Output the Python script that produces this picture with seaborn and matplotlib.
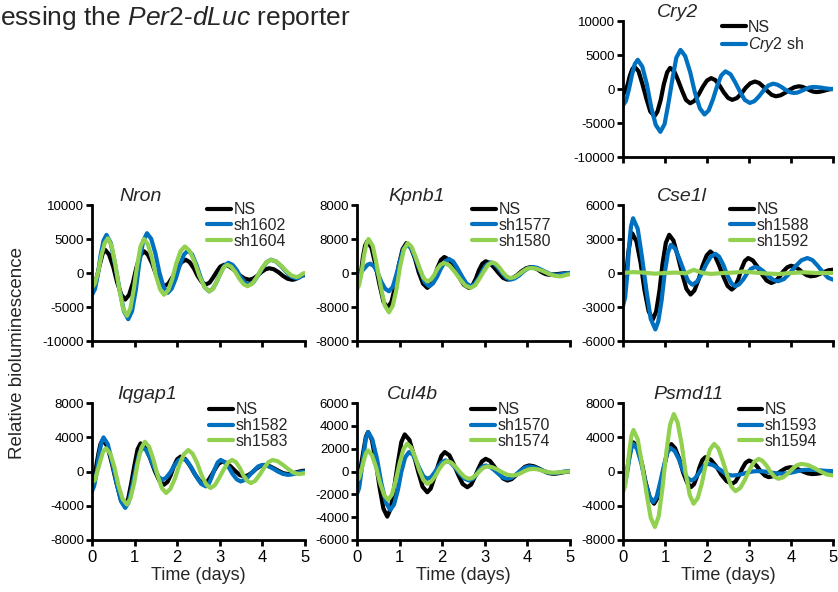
import numpy as np
import pandas as pd
import matplotlib
matplotlib.use("Agg")
import matplotlib.pyplot as plt
import seaborn as sns

# ---------------- data ----------------
# Cry2 panel
t_cry2_ns = [0, .05, .11, .16, .22, .27, .37, .46, .56, .65, .75, .82, .90, .97, 1.05, 1.12, 1.22, 1.31, 1.41, 1.50,
             1.6, 1.7, 1.8, 1.9, 2.0, 2.1, 2.2, 2.3, 2.4, 2.5, 2.6, 2.71, 2.82, 2.92, 3.03, 3.14, 3.24, 3.34, 3.44, 3.54,
             3.64, 3.75, 3.86, 3.97, 4.08, 4.19, 4.27, 4.35, 4.44, 4.52, 4.6, 4.68, 4.76, 4.84, 4.92, 5.0]
v_cry2_ns = [-800, -410, 620, 1890, 2910, 3300, 2610, 780, -1480, -3310, -4000, -3330, -1550, 650, 2430, 3100, 2610, 1310, -310, -1610,
             -2100, -1750, -820, 320, 1250, 1600, 1300, 500, -500, -1300, -1600, -1340, -670, 170, 840, 1100, 890, 350, -320, -860,
             -1070, -930, -560, -110, 260, 400, 320, 110, -160, -370, -450, -410, -300, -160, -40, 0]
t_cry2_sh = [0, .07, .14, .21, .28, .35, .46, .57, .67, .78, .89, .99, 1.08, 1.18, 1.27, 1.37, 1.48, 1.60, 1.71, 1.83,
             1.94, 2.04, 2.14, 2.24, 2.34, 2.44, 2.56, 2.67, 2.79, 2.90, 3.02, 3.13, 3.24, 3.35, 3.46, 3.57, 3.67, 3.77, 3.87, 3.97,
             4.07, 4.16, 4.25, 4.35, 4.44, 4.53, 4.62, 4.72, 4.81, 4.91, 5.0]
v_cry2_sh = [-2400, -1760, -90, 1990, 3660, 4300, 3290, 640, -2640, -5290, -6300, -5160, -2140, 1590, 4610, 5750, 4850, 2470, -470, -2850,
             -3750, -3150, -1560, 410, 2000, 2600, 2160, 1000, -450, -1610, -2050, -1780, -1070, -200, 510, 780, 650, 310, -120, -460,
             -590, -510, -280, -10, 220, 300, 270, 200, 100, 30, 0]

# Nron panel
t_nron_ns = [0, .06, .12, .19, .25, .31, .40, .50, .59, .69, .78, .87, .96, 1.04, 1.13, 1.22, 1.31, 1.41, 1.50, 1.60,
             1.69, 1.79, 1.89, 2.00, 2.10, 2.2, 2.29, 2.39, 2.48, 2.58, 2.67, 2.76, 2.84, 2.93, 3.01, 3.1, 3.22, 3.34, 3.45, 3.57,
             3.69, 3.78, 3.88, 3.97, 4.07, 4.16, 4.27, 4.38, 4.48, 4.59, 4.7, 4.76, 4.82, 4.88, 4.94, 5.0]
v_nron_ns = [-2400, -1850, -400, 1400, 2850, 3400, 2710, 880, -1380, -3210, -3900, -3230, -1450, 750, 2530, 3200, 2710, 1420, -170, -1460,
             -1950, -1580, -600, 610, 1580, 1950, 1600, 690, -440, -1350, -1700, -1420, -700, 200, 930, 1200, 990, 440, -240, -790,
             -1000, -840, -410, 110, 540, 700, 540, 110, -410, -840, -1000, -930, -760, -540, -370, -300]
t_nron_1602 = [0, .07, .14, .20, .27, .34, .44, .54, .65, .75, .85, .94, 1.03, 1.11, 1.20, 1.29, 1.39, 1.49, 1.58, 1.68,
               1.78, 1.87, 1.97, 2.06, 2.16, 2.25, 2.35, 2.45, 2.55, 2.65, 2.75, 2.84, 2.93, 3.02, 3.11, 3.2, 3.30, 3.40, 3.49, 3.59,
               3.69, 3.79, 3.89, 4.00, 4.10, 4.2, 4.32, 4.44, 4.56, 4.68, 4.8, 4.84, 4.88, 4.92, 4.96, 5.0]
v_nron_1602 = [-3200, -2360, -160, 2560, 4760, 5600, 4420, 1320, -2520, -5620, -6800, -5600, -2440, 1490, 4650, 5850, 5020, 2830, 120, -2070,
               -2900, -2310, -760, 1160, 2710, 3300, 2730, 1230, -630, -2130, -2700, -2300, -1250, 50, 1100, 1500, 1200, 400, -600, -1400,
               -1700, -1350, -440, 690, 1600, 1950, 1690, 1000, 150, -540, -800, -740, -590, -410, -260, -200]
t_nron_1604 = [0, .07, .15, .22, .30, .37, .46, .55, .64, .73, .82, .90, .98, 1.06, 1.14, 1.22, 1.31, 1.41, 1.50, 1.60,
               1.69, 1.79, 1.89, 1.98, 2.08, 2.18, 2.29, 2.41, 2.52, 2.64, 2.75, 2.84, 2.92, 3.01, 3.09, 3.18, 3.27, 3.37, 3.46, 3.56,
               3.65, 3.76, 3.87, 3.98, 4.09, 4.2, 4.32, 4.44, 4.56, 4.68, 4.8, 4.84, 4.88, 4.92, 4.96, 5.0]
v_nron_1604 = [-2200, -1510, 320, 2580, 4410, 5100, 4020, 1170, -2370, -5220, -6300, -5230, -2400, 1100, 3930, 5000, 4220, 2170, -370, -2420,
               -3200, -2530, -750, 1450, 3230, 3900, 3270, 1620, -420, -2070, -2700, -2330, -1350, -150, 830, 1200, 900, 110, -860, -1650,
               -1950, -1580, -600, 610, 1580, 1950, 1710, 1070, 280, -360, -600, -540, -390, -210, -60, 0]

# Kpnb1 panel
t_kpnb1_ns = [0, .05, .10, .14, .19, .24, .34, .43, .53, .62, .72, .81, .90, .98, 1.07, 1.16, 1.26, 1.36, 1.45, 1.55,
              1.65, 1.73, 1.81, 1.89, 1.97, 2.05, 2.17, 2.28, 2.40, 2.51, 2.63, 2.71, 2.79, 2.86, 2.94, 3.02, 3.12, 3.22, 3.33, 3.43,
              3.53, 3.64, 3.75, 3.86, 3.97, 4.08, 4.16, 4.25, 4.33, 4.42, 4.5, 4.6, 4.7, 4.8, 4.9, 5.0]
v_kpnb1_ns = [-3100, -2100, 540, 3810, 6450, 7450, 5960, 2050, -2800, -6710, -8200, -6750, -2940, 1790, 5600, 7050, 6050, 3410, 140, -2500,
              -3500, -2810, -1000, 1260, 3070, 3760, 3070, 1260, -1000, -2810, -3500, -2910, -1340, 590, 2160, 2750, 2340, 1260, -80, -1160,
              -1570, -1290, -550, 380, 1120, 1400, 1230, 780, 220, -230, -400, -360, -260, -140, -40, 0]
t_kpnb1_1577 = [0, .06, .12, .19, .25, .31, .40, .49, .57, .66, .75, .84, .92, 1.01, 1.09, 1.18, 1.28, 1.38, 1.49, 1.59,
                1.69, 1.78, 1.88, 1.97, 2.07, 2.16, 2.26, 2.36, 2.47, 2.57, 2.67, 2.76, 2.86, 2.95, 3.05, 3.14, 3.23, 3.32, 3.42, 3.51,
                3.6, 3.70, 3.81, 3.91, 4.02, 4.12, 4.23, 4.33, 4.44, 4.54, 4.65, 4.72, 4.79, 4.86, 4.93, 5.0]
v_kpnb1_1577 = [-400, -150, 500, 1300, 1950, 2200, 1580, -40, -2060, -3680, -4300, -3260, -520, 2880, 5620, 6660, 5730, 3290, 270, -2170,
                -3100, -2490, -890, 1090, 2690, 3300, 2690, 1090, -890, -2490, -3100, -2570, -1170, 570, 1970, 2500, 2110, 1100, -170, -1180,
                -1570, -1290, -550, 380, 1120, 1400, 1220, 760, 190, -270, -450, -410, -300, -160, -40, 0]
t_kpnb1_1580 = [0, .05, .11, .16, .22, .27, .37, .46, .56, .65, .75, .84, .93, 1.01, 1.10, 1.19, 1.28, 1.37, 1.47, 1.56,
                1.65, 1.73, 1.81, 1.88, 1.96, 2.04, 2.17, 2.29, 2.42, 2.54, 2.67, 2.77, 2.87, 2.98, 3.08, 3.18, 3.26, 3.35, 3.43, 3.52,
                3.6, 3.70, 3.79, 3.89, 3.98, 4.08, 4.21, 4.35, 4.48, 4.62, 4.75, 4.80, 4.85, 4.90, 4.95, 5.0]
v_kpnb1_1580 = [-3900, -2770, 210, 3900, 6870, 8000, 6360, 2050, -3300, -7610, -9250, -7700, -3630, 1430, 5500, 7050, 6190, 3930, 1120, -1140,
                -2000, -1590, -500, 850, 1940, 2350, 1790, 330, -1480, -2940, -3500, -2930, -1430, 430, 1930, 2500, 2150, 1220, 80, -850,
                -1200, -970, -370, 370, 970, 1200, 1010, 510, -110, -610, -800, -750, -630, -470, -350, -300]

# Cse1l panel
t_cse1l_ns = [0, .04, .09, .13, .18, .22, .32, .42, .51, .61, .71, .79, .87, .94, 1.02, 1.1, 1.20, 1.30, 1.41, 1.51,
              1.61, 1.70, 1.80, 1.89, 1.99, 2.08, 2.18, 2.28, 2.39, 2.49, 2.59, 2.67, 2.75, 2.82, 2.90, 2.98, 3.09, 3.20, 3.31, 3.42,
              3.53, 3.62, 3.72, 3.81, 3.91, 4.0, 4.09, 4.19, 4.28, 4.38, 4.47, 4.58, 4.68, 4.79, 4.89, 5.0]
v_cse1l_ns = [-1200, -750, 420, 1880, 3050, 3500, 2780, 880, -1480, -3380, -4100, -3390, -1520, 790, 2660, 3370, 2870, 1550, -80, -1400,
              -1900, -1540, -590, 590, 1540, 1900, 1580, 740, -300, -1140, -1460, -1200, -500, 360, 1060, 1320, 1110, 560, -120, -670,
              -880, -740, -360, 120, 500, 640, 550, 320, 30, -200, -290, -240, -90, 90, 240, 290]
t_cse1l_1588 = [0, .05, .10, .14, .19, .24, .35, .45, .56, .66, .77, .84, .92, .99, 1.07, 1.14, 1.24, 1.34, 1.45, 1.55,
                1.65, 1.76, 1.87, 1.98, 2.09, 2.2, 2.29, 2.39, 2.48, 2.58, 2.67, 2.76, 2.86, 2.95, 3.05, 3.14, 3.25, 3.36, 3.47, 3.58,
                3.69, 3.83, 3.97, 4.11, 4.25, 4.39, 4.51, 4.63, 4.76, 4.88, 5.0]
v_cse1l_1588 = [-2900, -2170, -230, 2160, 4100, 4830, 3900, 1450, -1600, -4050, -4980, -4270, -2400, -90, 1780, 2490, 2160, 1280, 180, -700,
                -1030, -770, -90, 760, 1440, 1700, 1430, 710, -180, -900, -1170, -1010, -580, -60, 370, 530, 410, 100, -300, -610,
                -730, -540, -20, 610, 1130, 1320, 1140, 660, 70, -410, -590]
t_cse1l_1592 = [0, 0.25, 0.5, 0.75, 1.0, 1.25, 1.5, 1.6, 1.69, 1.78, 1.9, 2.1, 2.4, 2.7, 2.85, 3.1, 3.4, 3.7, 4.0, 4.3, 4.6, 5.0]
v_cse1l_1592 = [0, 80, 30, -60, 0, 40, -30, 150, 280, 150, 0, -80, 0, 50, 130, 50, -40, -90, 0, 60, 0, 0]

# Iqgap1 panel
t_iqgap1_ns = [0, .05, .10, .15, .20, .25, .36, .46, .57, .67, .78, .85, .92, 1.00, 1.07, 1.14, 1.25, 1.36, 1.47, 1.58,
               1.69, 1.77, 1.85, 1.92, 2.00, 2.08, 2.19, 2.30, 2.41, 2.52, 2.63, 2.72, 2.80, 2.89, 2.97, 3.06, 3.16, 3.26, 3.37, 3.47,
               3.57, 3.66, 3.76, 3.85, 3.95, 4.04, 4.15, 4.26, 4.38, 4.49, 4.6, 4.68, 4.76, 4.84, 4.92, 5.0]
v_iqgap1_ns = [-970, -530, 630, 2070, 3230, 3670, 2960, 1070, -1260, -3150, -3860, -3180, -1400, 820, 2600, 3280, 2820, 1620, 120, -1080,
               -1540, -1230, -410, 610, 1430, 1740, 1450, 670, -280, -1060, -1350, -1110, -480, 290, 920, 1160, 1000, 560, 20, -420,
               -580, -450, -110, 300, 640, 770, 670, 400, 70, -200, -300, -260, -160, -40, 60, 100]
t_iqgap1_1582 = [0, .05, .11, .16, .22, .27, .37, .47, .58, .68, .78, .86, .94, 1.03, 1.11, 1.19, 1.28, 1.37, 1.47, 1.56,
                 1.65, 1.74, 1.84, 1.93, 2.03, 2.12, 2.23, 2.34, 2.45, 2.56, 2.67, 2.74, 2.81, 2.88, 2.95, 3.02, 3.11, 3.21, 3.30, 3.40,
                 3.49, 3.59, 3.69, 3.80, 3.90, 4.0, 4.12, 4.24, 4.36, 4.48, 4.6, 4.68, 4.76, 4.84, 4.92, 5.0]
v_iqgap1_1582 = [-2300, -1700, -130, 1810, 3380, 3980, 3200, 1140, -1410, -3470, -4250, -3580, -1810, 380, 2150, 2820, 2460, 1510, 340, -610,
                 -965, -730, -100, 680, 1300, 1540, 1230, 410, -610, -1430, -1740, -1450, -670, 280, 1060, 1350, 1110, 480, -290, -920,
                 -1160, -980, -490, 100, 590, 770, 660, 370, 10, -280, -390, -350, -260, -140, -40, 0]
t_iqgap1_1583 = [0, .07, .13, .20, .26, .33, .43, .53, .62, .72, .82, .90, .99, 1.07, 1.16, 1.24, 1.34, 1.44, 1.54, 1.64,
                 1.74, 1.84, 1.95, 2.05, 2.16, 2.26, 2.36, 2.47, 2.57, 2.68, 2.78, 2.88, 2.98, 3.09, 3.19, 3.29, 3.38, 3.47, 3.55, 3.64,
                 3.73, 3.83, 3.93, 4.04, 4.14, 4.24, 4.36, 4.48, 4.61, 4.73, 4.85, 4.88, 4.91, 4.94, 4.97, 5.0]
v_iqgap1_1583 = [-1350, -970, 50, 1300, 2320, 2700, 2080, 440, -1600, -3240, -3860, -3160, -1330, 940, 2770, 3470, 2900, 1410, -450, -1940,
                 -2510, -2030, -780, 780, 2030, 2510, 2090, 980, -400, -1510, -1930, -1620, -800, 220, 1040, 1350, 1090, 420, -420, -1090,
                 -1350, -1090, -420, 420, 1090, 1350, 1190, 780, 270, -140, -300, -290, -270, -240, -210, -200]

# Cul4b panel
t_cul4b_ns = [0, .05, .10, .16, .21, .26, .35, .44, .53, .62, .71, .79, .87, .96, 1.04, 1.12, 1.23, 1.33, 1.44, 1.54,
              1.65, 1.73, 1.81, 1.90, 1.98, 2.06, 2.17, 2.27, 2.38, 2.48, 2.59, 2.68, 2.76, 2.85, 2.93, 3.02, 3.12, 3.22, 3.33, 3.43,
              3.53, 3.63, 3.73, 3.84, 3.94, 4.04, 4.15, 4.26, 4.38, 4.49, 4.6, 4.68, 4.76, 4.84, 4.92, 5.0]
v_cul4b_ns = [-800, -400, 670, 1990, 3060, 3460, 2760, 900, -1390, -3250, -3950, -3270, -1470, 770, 2570, 3250, 2770, 1500, -70, -1340,
              -1820, -1490, -610, 490, 1370, 1700, 1410, 640, -320, -1090, -1380, -1140, -520, 250, 870, 1110, 930, 450, -140, -610,
              -790, -670, -340, 80, 410, 530, 460, 280, 50, -130, -200, -180, -130, -70, -20, 0]
t_cul4b_1570 = [0, .05, .10, .16, .21, .26, .36, .47, .57, .68, .78, .87, .96, 1.04, 1.13, 1.22, 1.31, 1.39, 1.48, 1.56,
                1.65, 1.74, 1.82, 1.91, 1.99, 2.08, 2.19, 2.30, 2.41, 2.52, 2.63, 2.71, 2.79, 2.86, 2.94, 3.02, 3.12, 3.22, 3.33, 3.43,
                3.53, 3.63, 3.73, 3.84, 3.94, 4.04, 4.15, 4.26, 4.38, 4.49, 4.6, 4.68, 4.76, 4.84, 4.92, 5.0]
v_cul4b_1570 = [-1960, -1450, -90, 1590, 2950, 3460, 2810, 1100, -1010, -2720, -3370, -2890, -1620, -50, 1220, 1700, 1480, 890, 170, -420,
                -640, -490, -90, 420, 820, 970, 800, 360, -180, -620, -790, -670, -340, 80, 410, 530, 420, 130, -240, -530,
                -640, -540, -270, 70, 340, 440, 380, 240, 50, -90, -150, -130, -80, -20, 30, 50]
t_cul4b_1574 = [0, .05, .10, .16, .21, .26, .35, .45, .54, .64, .73, .82, .91, 1.00, 1.09, 1.18, 1.27, 1.37, 1.46, 1.56,
                1.65, 1.74, 1.84, 1.93, 2.03, 2.12, 2.22, 2.32, 2.43, 2.53, 2.63, 2.72, 2.80, 2.89, 2.97, 3.06, 3.18, 3.30, 3.41, 3.53,
                3.65, 3.74, 3.84, 3.93, 4.03, 4.12, 4.22, 4.31, 4.41, 4.50, 4.6, 4.68, 4.76, 4.84, 4.92, 5.0]
v_cul4b_1574 = [-800, -550, 110, 940, 1600, 1850, 1440, 350, -990, -2080, -2490, -2020, -790, 730, 1960, 2430, 2100, 1220, 130, -750,
                -1080, -890, -390, 220, 720, 910, 760, 380, -110, -490, -640, -540, -270, 70, 340, 440, 370, 170, -80, -280,
                -350, -300, -150, 30, 180, 230, 200, 120, 10, -70, -100, -90, -70, -40, -10, 0]

# Psmd11 panel
t_psmd11_ns = [0, .05, .10, .15, .20, .25, .35, .45, .54, .64, .74, .82, .90, .99, 1.07, 1.15, 1.24, 1.34, 1.43, 1.53,
               1.62, 1.69, 1.76, 1.82, 1.89, 1.96, 2.09, 2.22, 2.34, 2.47, 2.6, 2.68, 2.76, 2.84, 2.92, 3.0, 3.09, 3.19, 3.28, 3.38,
               3.47, 3.57, 3.67, 3.78, 3.88, 3.98, 4.08, 4.19, 4.29, 4.40, 4.5, 4.6, 4.7, 4.8, 4.9, 5.0]
v_psmd11_ns = [-1430, -970, 240, 1730, 2940, 3400, 2720, 930, -1290, -3080, -3760, -3100, -1360, 800, 2540, 3200, 2720, 1470, -90, -1340,
               -1820, -1490, -620, 470, 1340, 1670, 1380, 600, -360, -1140, -1430, -1170, -500, 350, 1020, 1280, 1100, 610, 10, -480,
               -660, -550, -260, 100, 390, 500, 420, 220, -20, -220, -300, -270, -200, -100, -30, 0]
t_psmd11_1593 = [0, .05, .10, .15, .20, .25, .34, .44, .53, .63, .72, .80, .88, .97, 1.05, 1.13, 1.23, 1.33, 1.42, 1.52,
                 1.62, 1.70, 1.78, 1.86, 1.94, 2.02, 2.14, 2.25, 2.37, 2.48, 2.6, 2.72, 2.84, 2.96, 3.08, 3.2, 3.32, 3.44, 3.56, 3.68,
                 3.8, 3.92, 4.04, 4.16, 4.28, 4.4, 4.52, 4.64, 4.76, 4.88, 5.0]
v_psmd11_1593 = [-1820, -1340, -80, 1480, 2740, 3220, 2580, 880, -1230, -2930, -3570, -2970, -1390, 570, 2150, 2750, 2390, 1440, 260, -690,
                 -1050, -870, -380, 220, 710, 890, 760, 420, 0, -340, -470, -420, -290, -130, 0, 50, 20, -50, -150, -220,
                 -250, -210, -100, 50, 160, 200, 190, 150, 100, 60, 50]
t_psmd11_1594 = [0, .05, .10, .15, .20, .25, .35, .45, .56, .66, .76, .85, .94, 1.03, 1.12, 1.21, 1.30, 1.40, 1.49, 1.59,
                 1.68, 1.78, 1.88, 1.97, 2.07, 2.17, 2.27, 2.37, 2.48, 2.58, 2.68, 2.79, 2.90, 3.01, 3.12, 3.23, 3.32, 3.42, 3.51, 3.61,
                 3.7, 3.81, 3.92, 4.03, 4.14, 4.25, 4.40, 4.55, 4.70, 4.85, 5.0]
v_psmd11_1594 = [-2400, -1710, 100, 2350, 4160, 4850, 3770, 940, -2570, -5400, -6480, -5230, -1930, 2160, 5460, 6710, 5720, 3100, -150, -2770,
                 -3760, -3100, -1350, 810, 2560, 3220, 2700, 1320, -390, -1770, -2290, -1930, -990, 170, 1110, 1470, 1250, 670, -50, -630,
                 -850, -690, -250, 290, 730, 890, 760, 420, 0, -340, -470]

# Tick values / labels as printed in the picture
yticks_cry2 = [-10000, -5000, 0, 5000, 10000]
yticks_nron = [-10000, -5000, 0, 5000, 10000]
yticks_kpnb1 = [-16000, -8000, 0, 8000, 16000]
yticklabels_kpnb1 = ["-8000", "-8000", "0", "8000", "8000"]
yticks_cse1l = [-6000, -3000, 0, 3000, 6000]
yticks_iqgap1 = [-8000, -4000, 0, 4000, 8000]
yticks_cul4b = [-6000, -4000, -2000, 0, 2000, 4000, 6000]
yticks_psmd11 = [-8000, -4000, 0, 4000, 8000]
xticks = [0, 1, 2, 3, 4, 5]

# ---------------- styling ----------------
sns.set_theme(style="ticks")
plt.rcParams["font.family"] = ["Liberation Sans", "DejaVu Sans"]
plt.rcParams["mathtext.fontset"] = "custom"
plt.rcParams["mathtext.rm"] = "Liberation Sans"
plt.rcParams["mathtext.it"] = "Liberation Sans:italic"

BLACK = "#000000"
BLUE = "#0070C0"
GREEN = "#92D050"

W, H = 838, 592
fig = plt.figure(figsize=(W / 100, H / 100), dpi=100)


def make_ax(x0, y_top, y_bot, width=213):
    return fig.add_axes([x0 / W, 1 - y_bot / H, width / W, (y_bot - y_top) / H])


def panel(ax, series, colors, labels, yticks, ytlabels, title, title_x,
          leg_x, leg_y, xlabels):
    frames = []
    for (t, v), lab in zip(series, labels):
        frames.append(pd.DataFrame({"t": t, "v": v, "s": lab}))
    df = pd.concat(frames, ignore_index=True)
    sns.lineplot(data=df, x="t", y="v", hue="s", hue_order=labels,
                 palette=dict(zip(labels, colors)), estimator=None,
                 linewidth=3.0, ax=ax, legend=False)
    for ln in ax.get_lines():
        ln.set_solid_joinstyle("round")
        ln.set_solid_capstyle("round")
    ax.set_xlim(0, 5)
    ax.set_ylim(yticks[0], yticks[-1])
    ax.set_yticks(yticks)
    ax.set_yticklabels(ytlabels if ytlabels is not None else [str(y) for y in yticks])
    ax.set_xticks(xticks)
    if xlabels:
        ax.set_xticklabels([str(x) for x in xticks])
        ax.set_xlabel("Time (days)", fontsize=13, labelpad=2)
    else:
        ax.set_xticklabels([])
        ax.set_xlabel("")
    ax.set_ylabel("")
    for sp in ["top", "right"]:
        ax.spines[sp].set_visible(False)
    for sp in ["left", "bottom"]:
        ax.spines[sp].set_linewidth(2.0)
        ax.spines[sp].set_color("black")
    ax.tick_params(axis="both", direction="out", length=4, width=2.0,
                   labelsize=9.5, pad=1.5, colors="black")
    ax.tick_params(axis="x", labelsize=12, pad=3)
    ax.set_facecolor("none")
    ax.text(title_x, 1.0, title, transform=ax.transAxes, ha="center",
            va="bottom", fontsize=14, fontstyle="italic")
    handles = ax.get_lines()[:len(labels)]
    ax.legend(handles, labels, loc="upper left", bbox_to_anchor=(leg_x, leg_y),
              frameon=False, fontsize=11.5, handlelength=1.5, handletextpad=0.15,
              labelspacing=0.05, borderpad=0, borderaxespad=0)


# Columns / rows (pixels)
cols = [92, 357, 623]
rows = [(21, 157), (205, 341), (403, 540)]
RW = 210

ax = make_ax(cols[2], *rows[0], width=RW)
panel(ax, [(t_cry2_ns, v_cry2_ns), (t_cry2_sh, v_cry2_sh)], [BLACK, BLUE],
      ["NS", r"$\mathit{Cry2}$ sh"], yticks_cry2, None, "Cry2", 0.26, 0.47, 1.01, False)

ax = make_ax(cols[0], *rows[1])
panel(ax, [(t_nron_ns, v_nron_ns), (t_nron_1602, v_nron_1602), (t_nron_1604, v_nron_1604)],
      [BLACK, BLUE, GREEN], ["NS", "sh1602", "sh1604"], yticks_nron, None,
      "Nron", 0.23, 0.54, 1.02, False)

ax = make_ax(cols[1], *rows[1])
panel(ax, [(t_kpnb1_ns, v_kpnb1_ns), (t_kpnb1_1577, v_kpnb1_1577), (t_kpnb1_1580, v_kpnb1_1580)],
      [BLACK, BLUE, GREEN], ["NS", "sh1577", "sh1580"], yticks_kpnb1, yticklabels_kpnb1,
      "Kpnb1", 0.28, 0.54, 1.02, False)

ax = make_ax(cols[2], *rows[1], width=RW)
panel(ax, [(t_cse1l_ns, v_cse1l_ns), (t_cse1l_1588, v_cse1l_1588), (t_cse1l_1592, v_cse1l_1592)],
      [BLACK, BLUE, GREEN], ["NS", "sh1588", "sh1592"], yticks_cse1l, None,
      "Cse1l", 0.28, 0.51, 1.02, False)

ax = make_ax(cols[0], *rows[2])
panel(ax, [(t_iqgap1_ns, v_iqgap1_ns), (t_iqgap1_1582, v_iqgap1_1582), (t_iqgap1_1583, v_iqgap1_1583)],
      [BLACK, BLUE, GREEN], ["NS", "sh1582", "sh1583"], yticks_iqgap1, None,
      "Iqgap1", 0.26, 0.55, 1.005, True)

ax = make_ax(cols[1], *rows[2])
panel(ax, [(t_cul4b_ns, v_cul4b_ns), (t_cul4b_1570, v_cul4b_1570), (t_cul4b_1574, v_cul4b_1574)],
      [BLACK, BLUE, GREEN], ["NS", "sh1570", "sh1574"], yticks_cul4b, None,
      "Cul4b", 0.26, 0.535, 1.005, True)

ax = make_ax(cols[2], *rows[2], width=RW)
panel(ax, [(t_psmd11_ns, v_psmd11_ns), (t_psmd11_1593, v_psmd11_1593), (t_psmd11_1594, v_psmd11_1594)],
      [BLACK, BLUE, GREEN], ["NS", "sh1593", "sh1594"], yticks_psmd11, None,
      "Psmd11", 0.31, 0.55, 1.005, True)

fig.text(18 / W, 1 - 353 / H, "Relative bioluminescence", rotation=90,
         ha="center", va="center", fontsize=13.5)
fig.text(0, 1 - 25 / H, r"essing the $\mathit{Per2}$-$\mathit{dLuc}$ reporter",
         ha="left", va="baseline", fontsize=19)

fig.savefig("out.png", dpi=100)
